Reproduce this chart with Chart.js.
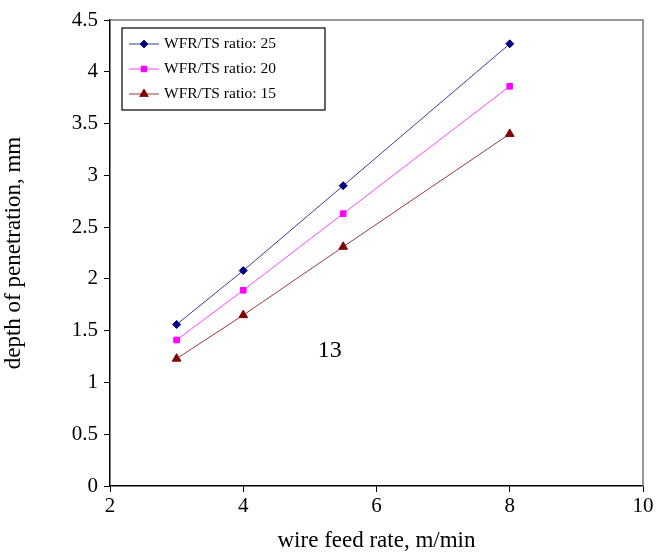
<!DOCTYPE html>
<html>
<head>
<meta charset="utf-8">
<script src="https://cdn.jsdelivr.net/npm/chart.js@4"></script>
<style>
  body { margin: 0; background: #fff; }
  #wrap { width: 664px; height: 555px; }
</style>
</head>
<body>
<div id="wrap"><canvas id="myChart" width="664" height="555"></canvas></div>
<script>
// wire feed rate, m/min
const feedRate = [3, 4, 5.5, 8];
// depth of penetration, mm
const ratio25 = [1.56, 2.08, 2.90, 4.27];
const ratio20 = [1.41, 1.89, 2.63, 3.86];
const ratio15 = [1.23, 1.65, 2.31, 3.40];
const seriesNames = ["WFR/TS ratio: 25", "WFR/TS ratio: 20", "WFR/TS ratio: 15"];
const xTicks = [2, 4, 6, 8, 10];
const yTicks = [0, 0.5, 1, 1.5, 2, 2.5, 3, 3.5, 4, 4.5];
const note = { text: "13", x: 5.3, y: 1.31 };

const serif = "'Liberation Serif', 'Times New Roman', serif";

function pts(ys) {
    return feedRate.map((x, i) => ({ x: x, y: ys[i] }));
}

// frame round the plot + the boxed legend + the "13" label
const extras = {
    id: 'extras',
    afterDraw(chart) {
        const ctx = chart.ctx;
        const a = chart.chartArea;
        ctx.save();
        ctx.strokeStyle = '#777';
        ctx.lineWidth = 1.5;
        ctx.beginPath();
        ctx.moveTo(a.left, a.top);
        ctx.lineTo(a.right, a.top);
        ctx.lineTo(a.right, a.bottom);
        ctx.stroke();

        // legend box
        const bx = 122, by = 28, bw = 203, bh = 82;
        ctx.strokeStyle = '#000';
        ctx.lineWidth = 1.2;
        ctx.strokeRect(bx, by, bw, bh);
        ctx.font = "15.5px " + serif;
        ctx.textBaseline = 'middle';
        chart.data.datasets.forEach((ds, i) => {
            const ly = by + 16 + i * 25;
            ctx.strokeStyle = ds.borderColor;
            ctx.lineWidth = 1;
            ctx.beginPath();
            ctx.moveTo(bx + 7, ly);
            ctx.lineTo(bx + 37, ly);
            ctx.stroke();
            Chart.helpers.drawPoint(ctx, {
                pointStyle: ds.pointStyle, radius: ds.pointRadius, rotation: 0, borderWidth: 1
            }, bx + 22, ly);
            ctx.fillStyle = ds.pointBackgroundColor;
            ctx.fill();
            ctx.fillStyle = '#000';
            ctx.fillText(ds.label, bx + 42, ly);
        });

        const xs = chart.scales.x, ys = chart.scales.y;
        ctx.font = "24px " + serif;
        ctx.textAlign = 'center';
        ctx.fillStyle = '#000';
        ctx.fillText(note.text, xs.getPixelForValue(note.x), ys.getPixelForValue(note.y));
        ctx.restore();
    }
};

const colors = ['#000080', '#ff00ff', '#800000'];
const lineColors = ['#3c3c8c', '#ff44ff', '#9a3a3a'];
const styles = ['rectRot', 'rect', 'triangle'];
const radii = [4, 4, 5];
const allData = [ratio25, ratio20, ratio15];

new Chart(document.getElementById('myChart'), {
    type: 'scatter',
    data: {
        datasets: allData.map((d, i) => ({
            label: seriesNames[i],
            data: pts(d),
            showLine: true,
            borderColor: lineColors[i],
            borderWidth: 1,
            pointStyle: styles[i],
            pointRadius: radii[i],
            pointBackgroundColor: colors[i],
            pointBorderColor: colors[i],
            pointBorderWidth: 1
        }))
    },
    options: {
        responsive: false,
        animation: false,
        layout: { padding: { top: 20, right: 21, left: 0, bottom: 0 } },
        plugins: { legend: { display: false }, tooltip: { enabled: false } },
        scales: {
            x: {
                type: 'linear',
                min: 2, max: 10,
                afterBuildTicks: s => { s.ticks = xTicks.map(v => ({ value: v })); },
                afterFit: s => { s.height = 69; },
                grid: { drawOnChartArea: false, tickLength: 6, color: '#000' },
                border: { color: '#000', width: 1.5 },
                ticks: { color: '#000', font: { family: serif, size: 21 }, padding: 2,
                         callback: v => String(v) },
                title: { display: true, text: 'wire feed rate, m/min', color: '#000',
                         font: { family: serif, size: 23 }, padding: { top: 0, bottom: 0 } }
            },
            y: {
                min: 0, max: 4.5,
                afterBuildTicks: s => { s.ticks = yTicks.map(v => ({ value: v })); },
                afterFit: s => { s.width = 110; },
                grid: { drawOnChartArea: false, tickLength: 6, color: '#000' },
                border: { color: '#000', width: 1.5 },
                ticks: { color: '#000', font: { family: serif, size: 21 }, padding: 6,
                         callback: v => String(v) },
                title: { display: true, text: 'depth of penetration, mm', color: '#000',
                         font: { family: serif, size: 23 }, padding: { top: 0, bottom: 2 } }
            }
        }
    },
    plugins: [extras]
});
</script>
</body>
</html>
